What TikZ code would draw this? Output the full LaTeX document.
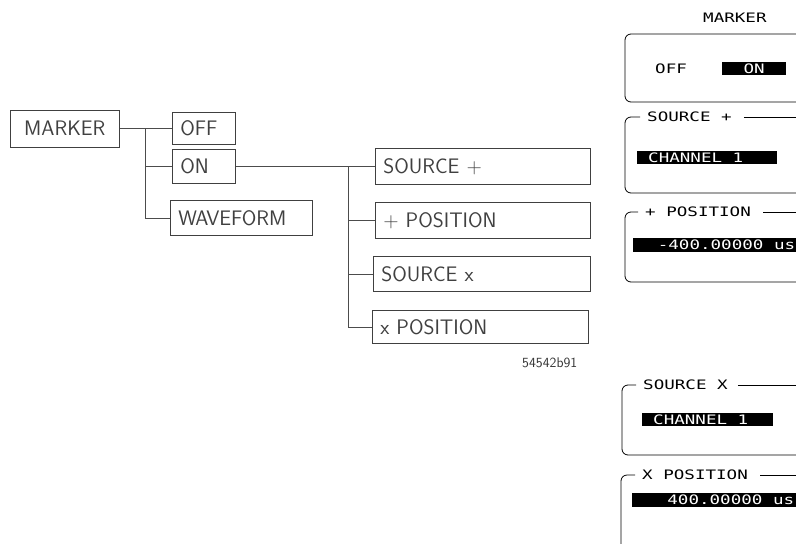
\documentclass[tikz,border=0pt]{standalone}
\usepackage{fontspec}
\newfontfamily\scrfont[FakeStretch=1.35]{DejaVu Sans Mono}
\begin{document}
\begin{tikzpicture}[x=1pt,y=-1pt,
  lbox/.style={draw=black!75, line width=0.7pt, anchor=north west, inner xsep=8pt, inner ysep=0pt,
    font=\sffamily\fontsize{21}{24}\selectfont, text=black!75, align=left},
  conn/.style={draw=black!70, line width=0.6pt},
  panel/.style={draw=black, line width=0.8pt},
  ttl/.style={font=\scrfont\fontsize{13}{15}\selectfont, inner sep=0pt, anchor=west},
  bar/.style={fill=black, text=white, font=\scrfont\fontsize{13}{15}\selectfont, inner ysep=0pt,
    anchor=north west, minimum height=13pt}]
\useasboundingbox (0,0) rectangle (796,544);
\coordinate (edge) at (796,0);

% ---------- menu tree ----------
\node[lbox, align=center, inner xsep=7pt, text width=95pt, minimum height=37pt] (mk) at (10,109.5) {MARKER};
\node[lbox, text width=47pt, minimum height=32pt] (off) at (172,112) {OFF};
\node[lbox, text width=47pt, minimum height=34pt] (on) at (172,149) {ON};
\node[lbox, text width=126pt, minimum height=35pt] (wf) at (170,200) {WAVEFORM};
\node[lbox, text width=199pt, minimum height=36pt] (sp) at (375,148) {SOURCE +};
\node[lbox, text width=199pt, minimum height=36pt] (pp) at (375,202) {+ POSITION};
\node[lbox, text width=201pt, minimum height=35pt] (sx) at (373,256) {SOURCE x};
\node[lbox, text width=200pt, minimum height=33pt] (px) at (372,310) {x POSITION};

\coordinate (j1) at (145,128);
\coordinate (j2) at (348,166);
\draw[conn] (mk.east) -- (off.west);
\draw[conn] (j1) |- (on.west);
\draw[conn] (j1) |- (wf.west);
\draw[conn] (on.east) -- (sp.west);
\draw[conn] (j2) |- (pp.west);
\draw[conn] (j2) |- (sx.west);
\draw[conn] (j2) |- (px.west);

\node[font=\sffamily\fontsize{14}{16}\selectfont, text=black!80, anchor=west, inner sep=0pt] (code) at (522,363) {54542b91};

% ---------- screen panels ----------
\node[ttl] (tm) at (703,18) {MARKER};
\draw[panel, rounded corners=6pt] (796,34) -- (625,34) -- (625,102) -- (796,102);
\node[ttl] (offr) at (655,69) {OFF};
\node[bar, minimum width=64pt, inner xsep=0pt] (onr) at (722,62) {ON};

\node[ttl] (t2) at (647,117) {SOURCE +};
\draw[panel, rounded corners=6pt] ([xshift=-7pt]t2.west) -| (625,193) -- (796,193);
\draw[panel] ([xshift=12pt]t2.east) -- (t2.east -| edge);
\node[bar, inner xsep=11pt] (c1) at (637,151) {\makebox[118pt][l]{CHANNEL 1}};

\node[ttl] (t3) at (645,212) {+ POSITION};
\draw[panel, rounded corners=6pt] ([xshift=-7pt]t3.west) -| (625,282) -- (796,282);
\draw[panel] ([xshift=12pt]t3.east) -- (t3.east -| edge);
\node[bar, minimum height=14pt, inner xsep=1pt] (v1) at (633,238) {\makebox[161pt][r]{-400.00000 us}};

\node[ttl] (t4) at (643,385) {SOURCE X};
\draw[panel, rounded corners=6pt] ([xshift=-7pt]t4.west) -| (622,455) -- (796,455);
\draw[panel] ([xshift=10pt]t4.east) -- (t4.east -| edge);
\node[bar, inner xsep=11pt] (c2) at (642,413) {\makebox[109pt][l]{CHANNEL 1}};

\node[ttl] (t5) at (642,475) {X POSITION};
\draw[panel, rounded corners=6pt] ([xshift=-7pt]t5.west) -| (621,544);
\draw[panel] ([xshift=12pt]t5.east) -- (t5.east -| edge);
\node[bar, minimum height=14pt, inner xsep=2pt] (v2) at (632,493) {\makebox[160pt][r]{400.00000 us}};
\end{tikzpicture}
\end{document}
